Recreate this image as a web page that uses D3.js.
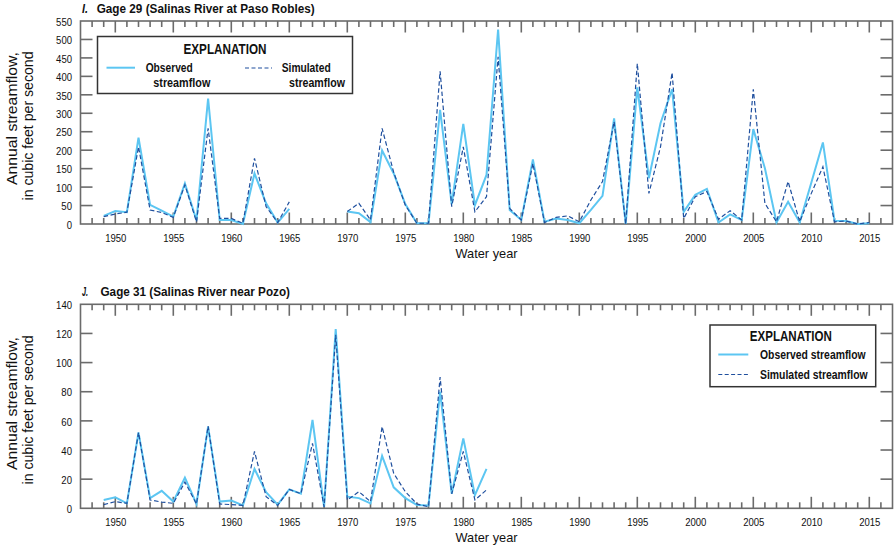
<!DOCTYPE html>
<html>
<head>
<meta charset="utf-8">
<script src="https://cdn.jsdelivr.net/npm/d3@7"></script>
<style>
  html, body { margin: 0; padding: 0; background: #fff; }
  svg text { font-family: "Liberation Sans", Arial, sans-serif; fill: #111; }
</style>
</head>
<body>
<svg id="chart" width="895" height="548"></svg>
<script>
// ---------- DATA ----------
const yearsI = d3.range(1949, 2016);
const observedI = [22, 35, 32, 234, 52, 36, 20, 110, 10, 340, 11, 11, 0, 137, 56, 4, 41,
  null, null, null, null,
  34, 29, 5, 199, 137, 54, 2, 2, 309, 54, 271, 51, 133, 527, 38, 11, 175, 6, 15, 11,
  2, 38, 76, 286, 0, 370, 124, 273, 365, 33, 79, 95, 4, 26, 11, 257, 151, 4, 60, 4, 112, 221, 9, 8, 0, 2];
const simulatedI = [20, 27, 32, 209, 38, 31, 18, 106, 6, 259, 15, 15, 2, 178, 47, 4, 60,
  null, null, null, null,
  34, 56, 11, 259, 140, 51, 2, 2, 414, 47, 209, 33, 74, 453, 42, 11, 164, 4, 18, 22,
  6, 65, 115, 277, 0, 435, 83, 209, 410, 15, 74, 88, 13, 36, 11, 365, 56, 6, 115, 6, 83, 155, 6, 8, 0, 4];

const yearsJ = d3.range(1949, 1983);
const observedJ = [5.7, 7.5, 3.4, 52, 7, 12, 4.6, 21, 3, 56, 4.6, 5.3, 2, 27, 11, 2.5, 13, 10, 60.6, 1, 123,
  8, 7, 3.4, 36, 14.4, 7, 2.3, 2, 80, 10, 48, 9, 27];
const simulatedJ = [2.5, 4.6, 3.4, 52, 5.7, 4.3, 3.4, 18, 3, 56.5, 3, 2.5, 2, 39, 8, 2, 13, 10, 44.6, 1, 119,
  5.7, 11.4, 4.6, 56, 24, 11.4, 3, 1, 90, 10, 39, 5.7, 12.6];

const xTickYears = d3.range(1950, 2016, 5);
const yTicksI = d3.range(0, 551, 50);
const yTicksJ = d3.range(0, 141, 20);

const titleI = ["I.", "Gage 29 (Salinas River at Paso Robles)"];
const titleJ = ["J.", "Gage 31 (Salinas River near Pozo)"];
const seriesNames = ["Observed streamflow", "Simulated streamflow"];
const yTitle = ["Annual streamflow,", "in cubic feet per second"];
const xTitle = "Water year";

// ---------- STYLE ----------
const obsColor = "#5cc6f2";
const simColor = "#1f4f9e";
const axisColor = "#6b6b6b";
const NARROW = 0.81;

const svg = d3.select("#chart");
const left = 80.5, right = 892.5;
const x = d3.scaleLinear().domain([1947, 2017]).range([left, right]);

function txt(g, xp, yp, s, o = {}) {
  const t = g.append("text").attr("x", xp).attr("y", yp)
    .attr("font-size", o.size || 12).attr("font-weight", o.weight || "normal")
    .attr("text-anchor", o.anchor || "start").text(s);
  if (o.italic) t.attr("font-style", "italic");
  if (o.transform) t.attr("transform", o.transform);
  if (o.len) t.attr("textLength", o.len).attr("lengthAdjust", "spacingAndGlyphs").classed("fixed", true);
  return t;
}

function panel(cfg) {
  const y = d3.scaleLinear().domain([0, cfg.ymax]).range([cfg.bottom, cfg.top]);
  const g = svg.append("g");

  g.append("rect").attr("x", left).attr("y", cfg.top)
    .attr("width", right - left).attr("height", cfg.bottom - cfg.top)
    .attr("fill", "none").attr("stroke", axisColor).attr("stroke-width", 1.6);

  d3.range(1948, 2017).forEach(yr => {
    const len = yr % 5 === 0 ? 11.5 : 6;
    const xp = x(yr);
    g.append("line").attr("x1", xp).attr("x2", xp).attr("y1", cfg.bottom).attr("y2", cfg.bottom - len)
      .attr("stroke", axisColor).attr("stroke-width", 1.6);
    g.append("line").attr("x1", xp).attr("x2", xp).attr("y1", cfg.top).attr("y2", cfg.top + len)
      .attr("stroke", axisColor).attr("stroke-width", 1.6);
  });
  const xAxis = d3.axisBottom(x).tickValues(xTickYears).tickSize(0).tickPadding(0).tickFormat(d3.format("d"));
  const xa = g.append("g").attr("transform", `translate(0,${cfg.bottom + 17.7})`).call(xAxis);
  xa.select(".domain").remove();
  xa.selectAll("text").attr("font-size", 11.8).attr("fill", "#111").attr("dy", 0).attr("y", 0)
    .style("font-family", '"Liberation Sans", Arial, sans-serif');

  cfg.yticks.forEach(v => {
    if (v === 0 || v === cfg.ymax) return;
    const yp = y(v);
    g.append("line").attr("x1", left).attr("x2", left + 12).attr("y1", yp).attr("y2", yp)
      .attr("stroke", axisColor).attr("stroke-width", 1.6);
    g.append("line").attr("x1", right).attr("x2", right - 12).attr("y1", yp).attr("y2", yp)
      .attr("stroke", axisColor).attr("stroke-width", 1.6);
  });
  const yAxis = d3.axisLeft(y).tickValues(cfg.yticks).tickSize(0).tickPadding(0);
  const ya = g.append("g").attr("transform", `translate(72,0)`).call(yAxis);
  ya.select(".domain").remove();
  ya.selectAll("text").attr("font-size", 11.8).attr("fill", "#111").attr("dy", "0.36em")
    .style("font-family", '"Liberation Sans", Arial, sans-serif');

  const line = d3.line().defined(d => d[1] !== null).x(d => x(d[0])).y(d => y(d[1]));
  g.append("path").datum(cfg.years.map((yr, i) => [yr, cfg.obs[i]]))
    .attr("d", line).attr("fill", "none").attr("stroke", obsColor).attr("stroke-width", 2);
  g.append("path").datum(cfg.years.map((yr, i) => [yr, cfg.sim[i]]))
    .attr("d", line).attr("fill", "none").attr("stroke", simColor).attr("stroke-width", 1.2)
    .attr("stroke-dasharray", "4.5,2.5");

  // title
  txt(g, 82, cfg.top - 8, cfg.title[0], { size: 13.5, weight: "bold", italic: true, len: 6 });
  txt(g, cfg.titleX, cfg.top - 8, cfg.title[1], { size: 13.5, weight: "bold", len: cfg.titleLen });

  // y axis title
  txt(g, 0, 0, yTitle[0], { size: 15.5, anchor: "middle", len: 133, transform: `translate(16.5,${cfg.yc1}) rotate(-90)` });
  txt(g, 0, 0, yTitle[1], { size: 15.5, anchor: "middle", len: 149, transform: `translate(32.5,${cfg.yc2}) rotate(-90)` });

  // x axis title
  txt(g, 486.5, cfg.bottom + 34, xTitle, { size: 13, anchor: "middle", len: 62 });
  return g;
}

panel({ top: 21, bottom: 224, ymax: 550, yticks: yTicksI, years: yearsI, obs: observedI, sim: simulatedI,
  title: titleI, titleX: 96.7, titleLen: 218, yc1: 118.5, yc2: 126 });
panel({ top: 304.3, bottom: 508.3, ymax: 140, yticks: yTicksJ, years: yearsJ, obs: observedJ, sim: simulatedJ,
  title: titleJ, titleX: 100.5, titleLen: 189.5, yc1: 403.5, yc2: 410 });

// ---------- LEGEND I ----------
(function () {
  const g = svg.append("g");
  g.append("rect").attr("x", 97.5).attr("y", 36.5).attr("width", 255).attr("height", 57)
    .attr("fill", "#fff").attr("stroke", "#333").attr("stroke-width", 1.5);
  txt(g, 225, 54, "EXPLANATION", { size: 14, weight: "bold", anchor: "middle", len: 83 });
  g.append("line").attr("x1", 106.5).attr("x2", 135).attr("y1", 67.7).attr("y2", 67.7)
    .attr("stroke", obsColor).attr("stroke-width", 2);
  g.append("line").attr("x1", 245).attr("x2", 272).attr("y1", 68).attr("y2", 68)
    .attr("stroke", simColor).attr("stroke-width", 1.2).attr("stroke-dasharray", "4,2.5");
  const w0 = seriesNames[0].split(" "), w1 = seriesNames[1].split(" ");
  txt(g, 145.7, 72, w0[0], { size: 12.5, weight: "bold", len: 47 });
  txt(g, 153.3, 86.5, w0[1], { size: 12.5, weight: "bold", len: 57 });
  txt(g, 281.7, 72, w1[0], { size: 12.5, weight: "bold", len: 49 });
  txt(g, 289, 86.5, w1[1], { size: 12.5, weight: "bold", len: 56 });
})();

// ---------- LEGEND J ----------
(function () {
  const g = svg.append("g");
  g.append("rect").attr("x", 710).attr("y", 325).attr("width", 165.7).attr("height", 61.7)
    .attr("fill", "#fff").attr("stroke", "#333").attr("stroke-width", 1.5);
  txt(g, 790.8, 341, "EXPLANATION", { size: 14, weight: "bold", anchor: "middle", len: 82 });
  g.append("line").attr("x1", 718.3).attr("x2", 748.3).attr("y1", 354.5).attr("y2", 354.5)
    .attr("stroke", obsColor).attr("stroke-width", 2);
  g.append("line").attr("x1", 718.3).attr("x2", 748.3).attr("y1", 374.5).attr("y2", 374.5)
    .attr("stroke", simColor).attr("stroke-width", 1.2).attr("stroke-dasharray", "4,2.4");
  txt(g, 760, 359, seriesNames[0], { size: 12.5, weight: "bold", len: 105.7 });
  txt(g, 760, 379.3, seriesNames[1], { size: 12.5, weight: "bold", len: 107.7 });
})();

// condense remaining (tick) labels to mimic a narrow typeface
svg.selectAll("text:not(.fixed)").each(function () {
  const w = this.getComputedTextLength();
  d3.select(this).attr("textLength", w * NARROW).attr("lengthAdjust", "spacingAndGlyphs");
});
</script>
</body>
</html>
